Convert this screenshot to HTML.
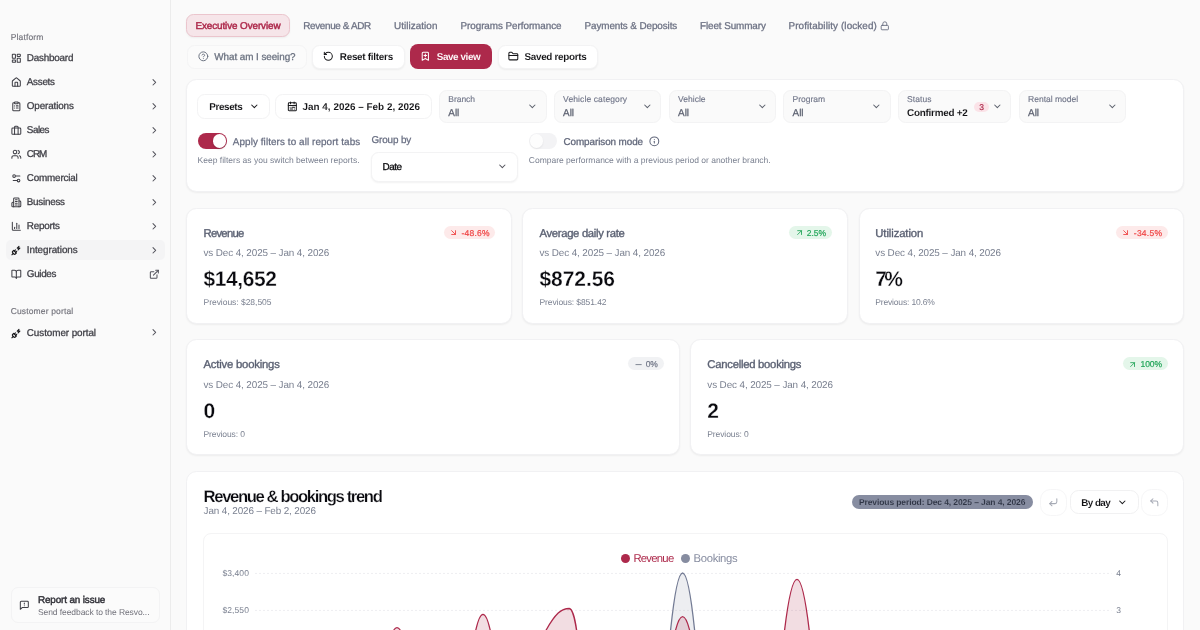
<!DOCTYPE html>
<html><head><meta charset="utf-8"><title>Executive Overview</title>
<style>
html,body{margin:0;padding:0}
body{width:1200px;height:630px;overflow:hidden;position:relative;background:#fafafa;font-family:"Liberation Sans",sans-serif;}
.tx{position:absolute;left:0;top:0;width:1200px;height:630px;will-change:transform;text-rendering:geometricPrecision;font-family:"Liberation Sans",sans-serif;white-space:pre}
.b{position:absolute;box-sizing:border-box}
.i{position:absolute;display:block;overflow:visible}
</style></head><body>
<div class="b" style="left:0.00px;top:0.00px;width:170.50px;height:630.00px;background:#fafafa;border-right:1px solid #ececec;"></div>
<div class="b" style="left:5.50px;top:239.50px;width:159.50px;height:20.50px;background:#f4f4f5;border-radius:5px;"></div>
<svg class="i" style="left:10.77px;top:52.87px;width:10.67px;height:10.67px" viewBox="0 0 24 24" fill="none" stroke="#3f3f46" stroke-width="2.3" stroke-linecap="round" stroke-linejoin="round"><rect x="3" y="3" width="7" height="9" rx="1"/><rect x="14" y="3" width="7" height="5" rx="1"/><rect x="14" y="12" width="7" height="9" rx="1"/><rect x="3" y="16" width="7" height="5" rx="1"/></svg>
<svg class="i" style="left:10.77px;top:76.87px;width:10.67px;height:10.67px" viewBox="0 0 24 24" fill="none" stroke="#3f3f46" stroke-width="2.3" stroke-linecap="round" stroke-linejoin="round"><path d="M15 21v-8a1 1 0 0 0-1-1h-4a1 1 0 0 0-1 1v8"/><path d="M3 10a2 2 0 0 1 .709-1.528l7-5.999a2 2 0 0 1 2.582 0l7 5.999A2 2 0 0 1 21 10v9a2 2 0 0 1-2 2H5a2 2 0 0 1-2-2z"/></svg>
<svg class="i" style="left:149.36px;top:76.67px;width:10.67px;height:10.67px" viewBox="0 0 24 24" fill="none" stroke="#52525b" stroke-width="2.3" stroke-linecap="round" stroke-linejoin="round"><path d="m9 18 6-6-6-6"/></svg>
<svg class="i" style="left:10.77px;top:100.87px;width:10.67px;height:10.67px" viewBox="0 0 24 24" fill="none" stroke="#3f3f46" stroke-width="2.3" stroke-linecap="round" stroke-linejoin="round"><rect x="8" y="2" width="8" height="4" rx="1"/><path d="M16 4h2a2 2 0 0 1 2 2v14a2 2 0 0 1-2 2H6a2 2 0 0 1-2-2V6a2 2 0 0 1 2-2h2"/><path d="M12 11h4"/><path d="M12 16h4"/><path d="M8 11h.01"/><path d="M8 16h.01"/></svg>
<svg class="i" style="left:149.36px;top:100.67px;width:10.67px;height:10.67px" viewBox="0 0 24 24" fill="none" stroke="#52525b" stroke-width="2.3" stroke-linecap="round" stroke-linejoin="round"><path d="m9 18 6-6-6-6"/></svg>
<svg class="i" style="left:10.77px;top:124.86px;width:10.67px;height:10.67px" viewBox="0 0 24 24" fill="none" stroke="#3f3f46" stroke-width="2.3" stroke-linecap="round" stroke-linejoin="round"><rect x="2" y="7" width="20" height="14" rx="2"/><path d="M16 21V5a2 2 0 0 0-2-2h-4a2 2 0 0 0-2 2v16"/></svg>
<svg class="i" style="left:149.36px;top:124.67px;width:10.67px;height:10.67px" viewBox="0 0 24 24" fill="none" stroke="#52525b" stroke-width="2.3" stroke-linecap="round" stroke-linejoin="round"><path d="m9 18 6-6-6-6"/></svg>
<svg class="i" style="left:10.77px;top:148.86px;width:10.67px;height:10.67px" viewBox="0 0 24 24" fill="none" stroke="#3f3f46" stroke-width="2.3" stroke-linecap="round" stroke-linejoin="round"><path d="M16 21v-2a4 4 0 0 0-4-4H6a4 4 0 0 0-4 4v2"/><circle cx="9" cy="7" r="4"/><path d="M22 21v-2a4 4 0 0 0-3-3.87"/><path d="M16 3.13a4 4 0 0 1 0 7.75"/></svg>
<svg class="i" style="left:149.36px;top:148.66px;width:10.67px;height:10.67px" viewBox="0 0 24 24" fill="none" stroke="#52525b" stroke-width="2.3" stroke-linecap="round" stroke-linejoin="round"><path d="m9 18 6-6-6-6"/></svg>
<svg class="i" style="left:10.77px;top:172.86px;width:10.67px;height:10.67px" viewBox="0 0 24 24" fill="none" stroke="#3f3f46" stroke-width="2.3" stroke-linecap="round" stroke-linejoin="round"><path d="M20 7h-9"/><path d="M14 17H5"/><circle cx="17" cy="17" r="3"/><circle cx="7" cy="7" r="3"/></svg>
<svg class="i" style="left:149.36px;top:172.66px;width:10.67px;height:10.67px" viewBox="0 0 24 24" fill="none" stroke="#52525b" stroke-width="2.3" stroke-linecap="round" stroke-linejoin="round"><path d="m9 18 6-6-6-6"/></svg>
<svg class="i" style="left:10.77px;top:196.86px;width:10.67px;height:10.67px" viewBox="0 0 24 24" fill="none" stroke="#3f3f46" stroke-width="2.3" stroke-linecap="round" stroke-linejoin="round"><path d="M6 22V4a2 2 0 0 1 2-2h8a2 2 0 0 1 2 2v18Z"/><path d="M6 12H4a2 2 0 0 0-2 2v6a2 2 0 0 0 2 2h2"/><path d="M18 9h2a2 2 0 0 1 2 2v9a2 2 0 0 1-2 2h-2"/><path d="M10 6h4"/><path d="M10 10h4"/><path d="M10 14h4"/><path d="M10 18h4"/></svg>
<svg class="i" style="left:149.36px;top:196.66px;width:10.67px;height:10.67px" viewBox="0 0 24 24" fill="none" stroke="#52525b" stroke-width="2.3" stroke-linecap="round" stroke-linejoin="round"><path d="m9 18 6-6-6-6"/></svg>
<svg class="i" style="left:10.77px;top:220.86px;width:10.67px;height:10.67px" viewBox="0 0 24 24" fill="none" stroke="#3f3f46" stroke-width="2.3" stroke-linecap="round" stroke-linejoin="round"><path d="M3 3v16a2 2 0 0 0 2 2h16"/><path d="M18 17V9"/><path d="M13 17V5"/><path d="M8 17v-3"/></svg>
<svg class="i" style="left:149.36px;top:220.66px;width:10.67px;height:10.67px" viewBox="0 0 24 24" fill="none" stroke="#52525b" stroke-width="2.3" stroke-linecap="round" stroke-linejoin="round"><path d="m9 18 6-6-6-6"/></svg>
<svg class="i" style="left:10.77px;top:244.86px;width:10.67px;height:10.67px" viewBox="0 0 24 24" fill="none" stroke="#18181b" stroke-width="2.5" stroke-linecap="round" stroke-linejoin="round"><path d="M6.3 20.3a2.4 2.4 0 0 0 3.4 0L12 18l-6-6-2.3 2.3a2.4 2.4 0 0 0 0 3.4Z"/><path d="m2 22 3-3"/><path d="M7.5 13.5 10 11"/><path d="M10.5 16.5 13 14"/><path d="m18 3-4 4h6l-4 4"/></svg>
<svg class="i" style="left:149.36px;top:244.66px;width:10.67px;height:10.67px" viewBox="0 0 24 24" fill="none" stroke="#52525b" stroke-width="2.3" stroke-linecap="round" stroke-linejoin="round"><path d="m9 18 6-6-6-6"/></svg>
<svg class="i" style="left:10.77px;top:268.87px;width:10.67px;height:10.67px" viewBox="0 0 24 24" fill="none" stroke="#3f3f46" stroke-width="2.3" stroke-linecap="round" stroke-linejoin="round"><path d="M12 7v14"/><path d="M3 18a1 1 0 0 1-1-1V4a1 1 0 0 1 1-1h5a4 4 0 0 1 4 4 4 4 0 0 1 4-4h5a1 1 0 0 1 1 1v13a1 1 0 0 1-1 1h-6a3 3 0 0 0-3 3 3 3 0 0 0-3-3z"/></svg>
<svg class="i" style="left:148.66px;top:268.97px;width:10.67px;height:10.67px" viewBox="0 0 24 24" fill="none" stroke="#52525b" stroke-width="2.3" stroke-linecap="round" stroke-linejoin="round"><path d="M15 3h6v6"/><path d="M10 14 21 3"/><path d="M18 13v6a2 2 0 0 1-2 2H5a2 2 0 0 1-2-2V8a2 2 0 0 1 2-2h6"/></svg>
<svg class="i" style="left:10.77px;top:327.56px;width:10.67px;height:10.67px" viewBox="0 0 24 24" fill="none" stroke="#18181b" stroke-width="2.5" stroke-linecap="round" stroke-linejoin="round"><path d="M6.3 20.3a2.4 2.4 0 0 0 3.4 0L12 18l-6-6-2.3 2.3a2.4 2.4 0 0 0 0 3.4Z"/><path d="m2 22 3-3"/><path d="M7.5 13.5 10 11"/><path d="M10.5 16.5 13 14"/><path d="m18 3-4 4h6l-4 4"/></svg>
<svg class="i" style="left:149.36px;top:327.37px;width:10.67px;height:10.67px" viewBox="0 0 24 24" fill="none" stroke="#52525b" stroke-width="2.3" stroke-linecap="round" stroke-linejoin="round"><path d="m9 18 6-6-6-6"/></svg>
<div class="b" style="left:10.50px;top:586.50px;width:149.50px;height:36.00px;background:#fbfbfb;border:1px solid #f3f3f4;border-radius:7px;"></div>
<svg class="i" style="left:19.16px;top:599.66px;width:10.67px;height:10.67px" viewBox="0 0 24 24" fill="none" stroke="#3f3f46" stroke-width="2.3" stroke-linecap="round" stroke-linejoin="round"><path d="M21 15a2 2 0 0 1-2 2H7l-4 4V5a2 2 0 0 1 2-2h14a2 2 0 0 1 2 2z"/><path d="M12 7v2"/><path d="M12 13h.01"/></svg>
<div class="b" style="left:186.00px;top:14.00px;width:103.80px;height:23.30px;background:#f6e5e9;border:1px solid #ebc5cd;border-radius:7.5px;box-shadow:0 1px 2px rgba(0,0,0,.05);"></div>
<svg class="i" style="left:880.20px;top:20.50px;width:9.6px;height:9.6px" viewBox="0 0 24 24" fill="none" stroke="#6d7284" stroke-width="2.3" stroke-linecap="round" stroke-linejoin="round"><rect x="3" y="11" width="18" height="11" rx="2"/><path d="M7 11V7a5 5 0 0 1 10 0v4"/></svg>
<div class="b" style="left:186.50px;top:44.50px;width:120.50px;height:24.40px;background:#fbfbfb;border:1px solid #f4f4f5;border-radius:7.5px;"></div>
<svg class="i" style="left:198.06px;top:51.46px;width:10.67px;height:10.67px" viewBox="0 0 24 24" fill="none" stroke="#6b7280" stroke-width="2.2" stroke-linecap="round" stroke-linejoin="round"><circle cx="12" cy="12" r="10"/><path d="M9.09 9a3 3 0 0 1 5.83 1c0 2-3 3-3 3"/><path d="M12 17h.01"/></svg>
<div class="b" style="left:312.00px;top:44.50px;width:92.80px;height:24.40px;background:#fff;border:1px solid #f3f3f4;border-radius:7.5px;box-shadow:0 1px 2px rgba(0,0,0,.055);"></div>
<svg class="i" style="left:322.87px;top:51.46px;width:10.67px;height:10.67px" viewBox="0 0 24 24" fill="none" stroke="#18181b" stroke-width="2.3" stroke-linecap="round" stroke-linejoin="round"><path d="M3 12a9 9 0 1 0 9-9 9.75 9.75 0 0 0-6.74 2.74L3 8"/><path d="M3 3v5h5"/></svg>
<div class="b" style="left:409.80px;top:44.40px;width:82.30px;height:24.30px;background:#ad294b;border-radius:8px;"></div>
<svg class="i" style="left:420.47px;top:51.46px;width:10.67px;height:10.67px" viewBox="0 0 24 24" fill="none" stroke="#fff" stroke-width="2.3" stroke-linecap="round" stroke-linejoin="round"><path d="m19 21-7-4-7 4V5a2 2 0 0 1 2-2h10a2 2 0 0 1 2 2v16z"/><path d="M12 7v6"/><path d="M15 10H9"/></svg>
<div class="b" style="left:497.50px;top:44.50px;width:100.50px;height:24.40px;background:#fff;border:1px solid #f3f3f4;border-radius:7.5px;box-shadow:0 1px 2px rgba(0,0,0,.055);"></div>
<svg class="i" style="left:508.46px;top:51.46px;width:10.67px;height:10.67px" viewBox="0 0 24 24" fill="none" stroke="#18181b" stroke-width="2.3" stroke-linecap="round" stroke-linejoin="round"><path d="M20 20a2 2 0 0 0 2-2V8a2 2 0 0 0-2-2h-7.9a2 2 0 0 1-1.69-.9L9.6 3.9A2 2 0 0 0 7.93 3H4a2 2 0 0 0-2 2v13a2 2 0 0 0 2 2Z"/><path d="M2 10h20"/></svg>
<div class="b" style="left:186.10px;top:79.00px;width:998.30px;height:113.30px;background:#fff;border:1px solid #f1f1f3;border-radius:10.5px;box-shadow:0 1px 2px rgba(0,0,0,.055);"></div>
<div class="b" style="left:197.00px;top:94.00px;width:73.00px;height:24.50px;background:#fff;border:1px solid #f3f3f4;border-radius:7.5px;"></div>
<svg class="i" style="left:248.56px;top:101.17px;width:10.67px;height:10.67px" viewBox="0 0 24 24" fill="none" stroke="#18181b" stroke-width="2.3" stroke-linecap="round" stroke-linejoin="round"><path d="m6 9 6 6 6-6"/></svg>
<div class="b" style="left:275.00px;top:94.00px;width:157.00px;height:24.50px;background:#fff;border:1px solid #f3f3f4;border-radius:7.5px;"></div>
<svg class="i" style="left:286.77px;top:101.47px;width:10.67px;height:10.67px" viewBox="0 0 24 24" fill="none" stroke="#18181b" stroke-width="2.3" stroke-linecap="round" stroke-linejoin="round"><rect width="18" height="18" x="3" y="4" rx="2"/><path d="M16 2v4"/><path d="M3 10h18"/><path d="M8 2v4"/><path d="M17 14h-6"/><path d="M13 18H7"/><path d="M7 14h.01"/><path d="M17 18h.01"/></svg>
<div class="b" style="left:439.00px;top:90.00px;width:107.50px;height:33.00px;background:#fafafa;border:1px solid #f3f3f4;border-radius:7.5px;"></div>
<svg class="i" style="left:527.06px;top:101.17px;width:10.67px;height:10.67px" viewBox="0 0 24 24" fill="none" stroke="#5b606c" stroke-width="2.3" stroke-linecap="round" stroke-linejoin="round"><path d="m6 9 6 6 6-6"/></svg>
<div class="b" style="left:553.80px;top:90.00px;width:107.50px;height:33.00px;background:#fafafa;border:1px solid #f3f3f4;border-radius:7.5px;"></div>
<svg class="i" style="left:641.86px;top:101.17px;width:10.67px;height:10.67px" viewBox="0 0 24 24" fill="none" stroke="#5b606c" stroke-width="2.3" stroke-linecap="round" stroke-linejoin="round"><path d="m6 9 6 6 6-6"/></svg>
<div class="b" style="left:668.80px;top:90.00px;width:107.20px;height:33.00px;background:#fafafa;border:1px solid #f3f3f4;border-radius:7.5px;"></div>
<svg class="i" style="left:756.56px;top:101.17px;width:10.67px;height:10.67px" viewBox="0 0 24 24" fill="none" stroke="#5b606c" stroke-width="2.3" stroke-linecap="round" stroke-linejoin="round"><path d="m6 9 6 6 6-6"/></svg>
<div class="b" style="left:783.30px;top:90.00px;width:107.50px;height:33.00px;background:#fafafa;border:1px solid #f3f3f4;border-radius:7.5px;"></div>
<svg class="i" style="left:871.36px;top:101.17px;width:10.67px;height:10.67px" viewBox="0 0 24 24" fill="none" stroke="#5b606c" stroke-width="2.3" stroke-linecap="round" stroke-linejoin="round"><path d="m6 9 6 6 6-6"/></svg>
<div class="b" style="left:897.80px;top:90.00px;width:113.50px;height:33.00px;background:#fafafa;border:1px solid #f3f3f4;border-radius:7.5px;"></div>
<div class="b" style="left:973.80px;top:101.80px;width:15.50px;height:10.00px;background:#fbe3e8;border-radius:5px;"></div>
<svg class="i" style="left:992.06px;top:101.17px;width:10.67px;height:10.67px" viewBox="0 0 24 24" fill="none" stroke="#5b606c" stroke-width="2.3" stroke-linecap="round" stroke-linejoin="round"><path d="m6 9 6 6 6-6"/></svg>
<div class="b" style="left:1018.80px;top:90.00px;width:107.50px;height:33.00px;background:#fafafa;border:1px solid #f3f3f4;border-radius:7.5px;"></div>
<svg class="i" style="left:1106.87px;top:101.17px;width:10.67px;height:10.67px" viewBox="0 0 24 24" fill="none" stroke="#5b606c" stroke-width="2.3" stroke-linecap="round" stroke-linejoin="round"><path d="m6 9 6 6 6-6"/></svg>
<div class="b" style="left:197.50px;top:133.00px;width:29.50px;height:16.00px;background:#ad294b;border-radius:8px;"></div>
<div class="b" style="left:212.80px;top:134.40px;width:13.00px;height:13.20px;background:#fff;border-radius:7px;box-shadow:0 1px 2px rgba(0,0,0,.2);"></div>
<div class="b" style="left:371.00px;top:151.50px;width:147.30px;height:30.30px;background:#fff;border:1px solid #f3f3f4;border-radius:7.5px;box-shadow:0 1px 2px rgba(0,0,0,.055);"></div>
<svg class="i" style="left:496.56px;top:161.16px;width:10.67px;height:10.67px" viewBox="0 0 24 24" fill="none" stroke="#52525b" stroke-width="2.3" stroke-linecap="round" stroke-linejoin="round"><path d="m6 9 6 6 6-6"/></svg>
<div class="b" style="left:528.80px;top:133.00px;width:28.70px;height:16.00px;background:#f3f3f5;border-radius:8px;"></div>
<div class="b" style="left:530.00px;top:134.40px;width:13.00px;height:13.20px;background:#fdfdfd;border-radius:7px;box-shadow:0 1px 2px rgba(0,0,0,.07);"></div>
<svg class="i" style="left:648.76px;top:136.16px;width:10.67px;height:10.67px" viewBox="0 0 24 24" fill="none" stroke="#5f6579" stroke-width="2.3" stroke-linecap="round" stroke-linejoin="round"><circle cx="12" cy="12" r="10"/><path d="M12 16v-4"/><path d="M12 8h.01"/></svg>
<div class="b" style="left:186.10px;top:208.20px;width:326.00px;height:115.50px;background:#fff;border:1px solid #f1f1f3;border-radius:10.5px;box-shadow:0 1px 2px rgba(0,0,0,.055);"></div>
<div class="b" style="left:444.00px;top:226.10px;width:51.30px;height:13.00px;background:#fdeaea;border-radius:6.5px;"></div>
<svg class="i" style="left:449.20px;top:228.10px;width:9.2px;height:9.2px" viewBox="0 0 24 24" fill="none" stroke="#ef4444" stroke-width="2.3" stroke-linecap="round" stroke-linejoin="round"><path d="m7 7 10 10"/><path d="M17 7v10H7"/></svg>
<div class="b" style="left:522.40px;top:208.20px;width:326.00px;height:115.50px;background:#fff;border:1px solid #f1f1f3;border-radius:10.5px;box-shadow:0 1px 2px rgba(0,0,0,.055);"></div>
<div class="b" style="left:789.30px;top:226.10px;width:42.50px;height:13.00px;background:#e4f6ea;border-radius:6.5px;"></div>
<svg class="i" style="left:794.60px;top:228.10px;width:9.2px;height:9.2px" viewBox="0 0 24 24" fill="none" stroke="#22a559" stroke-width="2.3" stroke-linecap="round" stroke-linejoin="round"><path d="M7 7h10v10"/><path d="M7 17 17 7"/></svg>
<div class="b" style="left:858.70px;top:208.20px;width:325.70px;height:115.50px;background:#fff;border:1px solid #f1f1f3;border-radius:10.5px;box-shadow:0 1px 2px rgba(0,0,0,.055);"></div>
<div class="b" style="left:1116.00px;top:226.10px;width:51.50px;height:13.00px;background:#fdeaea;border-radius:6.5px;"></div>
<svg class="i" style="left:1121.20px;top:228.10px;width:9.2px;height:9.2px" viewBox="0 0 24 24" fill="none" stroke="#ef4444" stroke-width="2.3" stroke-linecap="round" stroke-linejoin="round"><path d="m7 7 10 10"/><path d="M17 7v10H7"/></svg>
<div class="b" style="left:186.10px;top:339.20px;width:494.00px;height:115.50px;background:#fff;border:1px solid #f1f1f3;border-radius:10.5px;box-shadow:0 1px 2px rgba(0,0,0,.055);"></div>
<div class="b" style="left:628.00px;top:357.00px;width:35.50px;height:13.00px;background:#f1f2f4;border-radius:6.5px;"></div>
<svg class="i" style="left:633.60px;top:359.50px;width:9.2px;height:9.2px" viewBox="0 0 24 24" fill="none" stroke="#727888" stroke-width="2.3" stroke-linecap="round" stroke-linejoin="round"><path d="M5 12h14"/></svg>
<div class="b" style="left:690.40px;top:339.20px;width:494.00px;height:115.50px;background:#fff;border:1px solid #f1f1f3;border-radius:10.5px;box-shadow:0 1px 2px rgba(0,0,0,.055);"></div>
<div class="b" style="left:1123.00px;top:357.00px;width:44.50px;height:13.00px;background:#e4f6ea;border-radius:6.5px;"></div>
<svg class="i" style="left:1128.30px;top:359.50px;width:9.2px;height:9.2px" viewBox="0 0 24 24" fill="none" stroke="#22a559" stroke-width="2.3" stroke-linecap="round" stroke-linejoin="round"><path d="M7 7h10v10"/><path d="M7 17 17 7"/></svg>
<div class="b" style="left:186.10px;top:471.30px;width:998.30px;height:189.20px;background:#fff;border:1px solid #f1f1f3;border-radius:10.5px;"></div>
<div class="b" style="left:852.00px;top:495.00px;width:180.60px;height:13.90px;background:#878da1;border-radius:7px;"></div>
<div class="b" style="left:1039.90px;top:488.50px;width:27.40px;height:27.40px;background:#fff;border:1px solid #f6f6f7;border-radius:10.5px;"></div>
<svg class="i" style="left:1048.30px;top:497.30px;width:10.6px;height:10.6px" viewBox="0 0 24 24" fill="none" stroke="#a6aab5" stroke-width="2.3" stroke-linecap="round" stroke-linejoin="round"><path d="M20 4v7a4 4 0 0 1-4 4H4"/><path d="m9 10-5 5 5 5"/></svg>
<div class="b" style="left:1069.90px;top:489.70px;width:68.80px;height:24.70px;background:#fff;border:1px solid #f1f1f2;border-radius:8.5px;"></div>
<svg class="i" style="left:1116.87px;top:496.87px;width:10.67px;height:10.67px" viewBox="0 0 24 24" fill="none" stroke="#18181b" stroke-width="2.3" stroke-linecap="round" stroke-linejoin="round"><path d="m6 9 6 6 6-6"/></svg>
<div class="b" style="left:1140.50px;top:488.50px;width:27.30px;height:27.40px;background:#fff;border:1px solid #f6f6f7;border-radius:10.5px;"></div>
<svg class="i" style="left:1148.90px;top:496.70px;width:10.6px;height:10.6px" viewBox="0 0 24 24" fill="none" stroke="#a6aab5" stroke-width="2.3" stroke-linecap="round" stroke-linejoin="round"><path d="M20 20v-7a4 4 0 0 0-4-4H4"/><path d="M9 14 4 9l5-5"/></svg>
<div class="b" style="left:203.10px;top:532.70px;width:964.70px;height:127.80px;background:#fff;border:1px solid #f4f4f5;border-radius:8px;"></div>
<div class="b" style="left:621.00px;top:554.10px;width:9.00px;height:9.00px;background:#ad294b;border-radius:4.5px;"></div>
<div class="b" style="left:681.40px;top:554.10px;width:9.00px;height:9.00px;background:#868ca0;border-radius:4.5px;"></div>
<svg class="i" style="left:0;top:0;width:1200px;height:630px" viewBox="0 0 1200 630" fill="none"><path d="M255 573.4H1111.5M255 610.4H1111.5" stroke="#eeeef1" stroke-width="1" stroke-dasharray="2 2"/><path d="M669.11 645 Q675.86 573.00 682.60 573.00 Q689.34 573.00 696.09 645" fill="rgba(115,123,148,.13)" stroke="#737b94" stroke-width="1.3"/><path d="M388.38 645 Q392.69 627.60 397.00 627.60 Q401.31 627.60 405.62 645" fill="rgba(173,41,75,.16)" stroke="#ad294b" stroke-width="1.3"/><path d="M472.92 645 Q477.96 614.40 483.00 614.40 Q488.04 614.40 493.08 645" fill="rgba(173,41,75,.16)" stroke="#ad294b" stroke-width="1.3"/><path d="M672.41 645 Q677.50 616.60 682.60 616.60 Q687.70 616.60 692.79 645" fill="rgba(173,41,75,.16)" stroke="#ad294b" stroke-width="1.3"/><path d="M782.88 645 Q789.94 579.40 797.00 579.40 Q803.95 579.40 810.89 645" fill="rgba(173,41,75,.16)" stroke="#ad294b" stroke-width="1.3"/><path d="M538.5 645 C555.8 608.5 563.5 608.5 569.3 608.5 C574.5 609.1 577.6 637.2 578.3 645" fill="rgba(173,41,75,.16)" stroke="#ad294b" stroke-width="1.3"/></svg>
<svg class="tx" viewBox="0 0 1200 630">
<text x="10.80" y="39.72" font-size="8.5" fill="#71717a" letter-spacing="0.122" stroke="#71717a" stroke-width="0.15">Platform</text>
<text x="26.80" y="61.41" font-size="9.9" fill="#3f3f46" letter-spacing="-0.217" stroke="#3f3f46" stroke-width="0.3">Dashboard</text>
<text x="26.80" y="85.41" font-size="9.9" fill="#3f3f46" letter-spacing="-0.282" stroke="#3f3f46" stroke-width="0.3">Assets</text>
<text x="26.80" y="109.41" font-size="9.9" fill="#3f3f46" letter-spacing="-0.136" stroke="#3f3f46" stroke-width="0.3">Operations</text>
<text x="26.80" y="133.41" font-size="9.9" fill="#3f3f46" letter-spacing="-0.491" stroke="#3f3f46" stroke-width="0.3">Sales</text>
<text x="26.80" y="157.41" font-size="9.9" fill="#3f3f46" letter-spacing="-1.023" stroke="#3f3f46" stroke-width="0.3">CRM</text>
<text x="26.80" y="181.41" font-size="9.9" fill="#3f3f46" letter-spacing="-0.190" stroke="#3f3f46" stroke-width="0.3">Commercial</text>
<text x="26.80" y="205.41" font-size="9.9" fill="#3f3f46" letter-spacing="-0.267" stroke="#3f3f46" stroke-width="0.3">Business</text>
<text x="26.80" y="229.41" font-size="9.9" fill="#3f3f46" letter-spacing="-0.228" stroke="#3f3f46" stroke-width="0.3">Reports</text>
<text x="26.80" y="253.41" font-size="9.9" fill="#3f3f46" letter-spacing="-0.067" stroke="#3f3f46" stroke-width="0.3">Integrations</text>
<text x="26.80" y="277.41" font-size="9.9" fill="#3f3f46" letter-spacing="-0.334" stroke="#3f3f46" stroke-width="0.3">Guides</text>
<text x="26.80" y="336.11" font-size="9.9" fill="#3f3f46" letter-spacing="-0.073" stroke="#3f3f46" stroke-width="0.3">Customer portal</text>
<text x="10.70" y="314.42" font-size="8.5" fill="#71717a" letter-spacing="0.145" stroke="#71717a" stroke-width="0.15">Customer portal</text>
<text x="38.00" y="603.41" font-size="9.9" fill="#33333a" letter-spacing="-0.131" stroke="#33333a" stroke-width="0.45">Report an issue</text>
<text x="38.00" y="614.92" font-size="8.5" fill="#71717a" letter-spacing="-0.085">Send feedback to the Resvo...</text>
<text x="195.50" y="29.01" font-size="9.9" fill="#ad294b" letter-spacing="-0.096" stroke="#ad294b" stroke-width="0.45">Executive Overview</text>
<text x="303.30" y="29.01" font-size="9.9" fill="#6d7284" letter-spacing="-0.341" stroke="#6d7284" stroke-width="0.3">Revenue &amp; ADR</text>
<text x="394.00" y="29.01" font-size="9.9" fill="#6d7284" letter-spacing="0.058" stroke="#6d7284" stroke-width="0.3">Utilization</text>
<text x="460.50" y="29.01" font-size="9.9" fill="#6d7284" letter-spacing="-0.055" stroke="#6d7284" stroke-width="0.3">Programs Performance</text>
<text x="584.50" y="29.01" font-size="9.9" fill="#6d7284" letter-spacing="-0.091" stroke="#6d7284" stroke-width="0.3">Payments &amp; Deposits</text>
<text x="700.00" y="29.01" font-size="9.9" fill="#6d7284" letter-spacing="-0.093" stroke="#6d7284" stroke-width="0.3">Fleet Summary</text>
<text x="788.50" y="29.01" font-size="9.9" fill="#6d7284" letter-spacing="0.101" stroke="#6d7284" stroke-width="0.3">Profitability (locked)</text>
<text x="214.30" y="60.21" font-size="9.9" fill="#6b7280" letter-spacing="-0.065" stroke="#6b7280" stroke-width="0.3">What am I seeing?</text>
<text x="339.80" y="60.21" font-size="9.9" fill="#111114" font-weight="700" letter-spacing="-0.265" stroke="#fff" stroke-width="0.06">Reset filters</text>
<text x="436.80" y="60.21" font-size="9.9" fill="#fff" font-weight="700" letter-spacing="-0.417" stroke="#ad294b" stroke-width="0.06">Save view</text>
<text x="524.50" y="60.21" font-size="9.9" fill="#111114" font-weight="700" letter-spacing="-0.311" stroke="#fff" stroke-width="0.06">Saved reports</text>
<text x="209.30" y="109.81" font-size="9.9" fill="#111114" font-weight="700" letter-spacing="-0.380" stroke="#fff" stroke-width="0.06">Presets</text>
<text x="302.50" y="109.81" font-size="9.9" fill="#111114" font-weight="700" letter-spacing="0.024" stroke="#fff" stroke-width="0.06">Jan 4, 2026 – Feb 2, 2026</text>
<text x="448.30" y="102.22" font-size="8.5" fill="#72778a" letter-spacing="-0.047" stroke="#72778a" stroke-width="0.15">Branch</text>
<text x="448.30" y="116.21" font-size="9.9" fill="#575c6c" stroke="#575c6c" stroke-width="0.25">All</text>
<text x="563.10" y="102.22" font-size="8.5" fill="#72778a" letter-spacing="0.108" stroke="#72778a" stroke-width="0.15">Vehicle category</text>
<text x="563.10" y="116.21" font-size="9.9" fill="#575c6c" stroke="#575c6c" stroke-width="0.25">All</text>
<text x="678.10" y="102.22" font-size="8.5" fill="#72778a" letter-spacing="0.015" stroke="#72778a" stroke-width="0.15">Vehicle</text>
<text x="678.10" y="116.21" font-size="9.9" fill="#575c6c" stroke="#575c6c" stroke-width="0.25">All</text>
<text x="792.60" y="102.22" font-size="8.5" fill="#72778a" letter-spacing="-0.016" stroke="#72778a" stroke-width="0.15">Program</text>
<text x="792.60" y="116.21" font-size="9.9" fill="#575c6c" stroke="#575c6c" stroke-width="0.25">All</text>
<text x="907.10" y="102.22" font-size="8.5" fill="#72778a" letter-spacing="0.041" stroke="#72778a" stroke-width="0.15">Status</text>
<text x="907.00" y="116.21" font-size="9.9" fill="#111114" font-weight="700" letter-spacing="-0.231" stroke="#fafafa" stroke-width="0.06">Confirmed +2</text>
<text x="979.30" y="109.82" font-size="8.5" fill="#ad294b" stroke="#ad294b" stroke-width="0.2">3</text>
<text x="1028.10" y="102.22" font-size="8.5" fill="#72778a" letter-spacing="-0.008" stroke="#72778a" stroke-width="0.15">Rental model</text>
<text x="1028.10" y="116.21" font-size="9.9" fill="#575c6c" stroke="#575c6c" stroke-width="0.25">All</text>
<text x="232.80" y="144.91" font-size="9.9" fill="#676d81" letter-spacing="0.090" stroke="#676d81" stroke-width="0.25">Apply filters to all report tabs</text>
<text x="197.50" y="163.22" font-size="8.5" fill="#7a8090" letter-spacing="0.010">Keep filters as you switch between reports.</text>
<text x="371.50" y="143.21" font-size="9.9" fill="#676d81" letter-spacing="-0.132" stroke="#676d81" stroke-width="0.25">Group by</text>
<text x="382.50" y="169.91" font-size="9.9" fill="#111114" letter-spacing="-0.471" stroke="#111114" stroke-width="0.35">Date</text>
<text x="563.50" y="144.91" font-size="9.9" fill="#62687b" letter-spacing="-0.078" stroke="#62687b" stroke-width="0.3">Comparison mode</text>
<text x="528.80" y="163.22" font-size="8.5" fill="#7a8090">Compare performance with a previous period or another branch.</text>
<text x="203.50" y="236.89" font-size="11.3" fill="#5a6072" letter-spacing="-0.739" stroke="#5a6072" stroke-width="0.35">Revenue</text>
<text x="203.50" y="256.31" font-size="9.9" fill="#7a8090" letter-spacing="-0.103">vs Dec 4, 2025 – Jan 4, 2026</text>
<text x="203.50" y="286.32" font-size="21" fill="#0a0a0f" font-weight="700" letter-spacing="-0.402" stroke="#fff" stroke-width="0.3">$14,652</text>
<text x="203.50" y="305.22" font-size="8.5" fill="#7a8090" letter-spacing="-0.033">Previous: $28,505</text>
<text x="461.50" y="235.62" font-size="8.5" fill="#ef4444" letter-spacing="0.214" stroke="#ef4444" stroke-width="0.2">-48.6%</text>
<text x="539.50" y="236.89" font-size="11.3" fill="#5a6072" letter-spacing="-0.328" stroke="#5a6072" stroke-width="0.35">Average daily rate</text>
<text x="539.50" y="256.31" font-size="9.9" fill="#7a8090" letter-spacing="-0.103">vs Dec 4, 2025 – Jan 4, 2026</text>
<text x="539.50" y="286.32" font-size="21" fill="#0a0a0f" font-weight="700" letter-spacing="-0.069" stroke="#fff" stroke-width="0.3">$872.56</text>
<text x="539.50" y="305.22" font-size="8.5" fill="#7a8090" letter-spacing="-0.095">Previous: $851.42</text>
<text x="806.80" y="235.62" font-size="8.5" fill="#22a559" letter-spacing="-0.058" stroke="#22a559" stroke-width="0.2">2.5%</text>
<text x="875.30" y="236.89" font-size="11.3" fill="#5a6072" letter-spacing="-0.099" stroke="#5a6072" stroke-width="0.35">Utilization</text>
<text x="875.30" y="256.31" font-size="9.9" fill="#7a8090" letter-spacing="-0.103">vs Dec 4, 2025 – Jan 4, 2026</text>
<text x="875.30" y="286.32" font-size="21" fill="#0a0a0f" font-weight="700" letter-spacing="-2.652" stroke="#fff" stroke-width="0.3">7%</text>
<text x="875.30" y="305.22" font-size="8.5" fill="#7a8090" letter-spacing="-0.171">Previous: 10.6%</text>
<text x="1133.80" y="235.62" font-size="8.5" fill="#ef4444" letter-spacing="0.254" stroke="#ef4444" stroke-width="0.2">-34.5%</text>
<text x="203.50" y="368.29" font-size="11.3" fill="#5a6072" letter-spacing="-0.203" stroke="#5a6072" stroke-width="0.35">Active bookings</text>
<text x="203.50" y="387.71" font-size="9.9" fill="#7a8090" letter-spacing="-0.103">vs Dec 4, 2025 – Jan 4, 2026</text>
<text x="203.50" y="417.72" font-size="21" fill="#0a0a0f" font-weight="700" stroke="#fff" stroke-width="0.3">0</text>
<text x="203.50" y="436.62" font-size="8.5" fill="#7a8090" letter-spacing="-0.102">Previous: 0</text>
<text x="645.80" y="367.02" font-size="8.5" fill="#727888" letter-spacing="-0.285" stroke="#727888" stroke-width="0.2">0%</text>
<text x="707.30" y="368.29" font-size="11.3" fill="#5a6072" letter-spacing="-0.261" stroke="#5a6072" stroke-width="0.35">Cancelled bookings</text>
<text x="707.30" y="387.71" font-size="9.9" fill="#7a8090" letter-spacing="-0.103">vs Dec 4, 2025 – Jan 4, 2026</text>
<text x="707.30" y="417.72" font-size="21" fill="#0a0a0f" font-weight="700" stroke="#fff" stroke-width="0.3">2</text>
<text x="707.30" y="436.62" font-size="8.5" fill="#7a8090" letter-spacing="-0.102">Previous: 0</text>
<text x="1140.50" y="367.02" font-size="8.5" fill="#22a559" letter-spacing="-0.080" stroke="#22a559" stroke-width="0.2">100%</text>
<text x="203.60" y="501.74" font-size="16.7" fill="#0a0a0f" font-weight="700" letter-spacing="-1.399" stroke="#fff" stroke-width="0.22">Revenue &amp; bookings trend</text>
<text x="203.60" y="513.71" font-size="9.9" fill="#7a8090" letter-spacing="-0.125">Jan 4, 2026 – Feb 2, 2026</text>
<text x="858.90" y="505.02" font-size="8.5" fill="#2f3545" font-weight="700" letter-spacing="-0.099" stroke="#878da1" stroke-width="0.1">Previous period: Dec 4, 2025 – Jan 4, 2026</text>
<text x="1081.20" y="505.51" font-size="9.9" fill="#111114" font-weight="700" letter-spacing="-0.553" stroke="#fff" stroke-width="0.06">By day</text>
<text x="633.40" y="562.19" font-size="11.3" fill="#ad294b" letter-spacing="-0.739">Revenue</text>
<text x="693.60" y="562.19" font-size="11.3" fill="#868ca0" letter-spacing="-0.355">Bookings</text>
<text x="222.40" y="576.22" font-size="8.5" fill="#7a8090" letter-spacing="0.100">$3,400</text>
<text x="222.40" y="613.02" font-size="8.5" fill="#7a8090" letter-spacing="0.100">$2,550</text>
<text x="1116.30" y="576.22" font-size="8.5" fill="#7a8090">4</text>
<text x="1116.30" y="613.12" font-size="8.5" fill="#7a8090">3</text>
</svg>
</body></html>
